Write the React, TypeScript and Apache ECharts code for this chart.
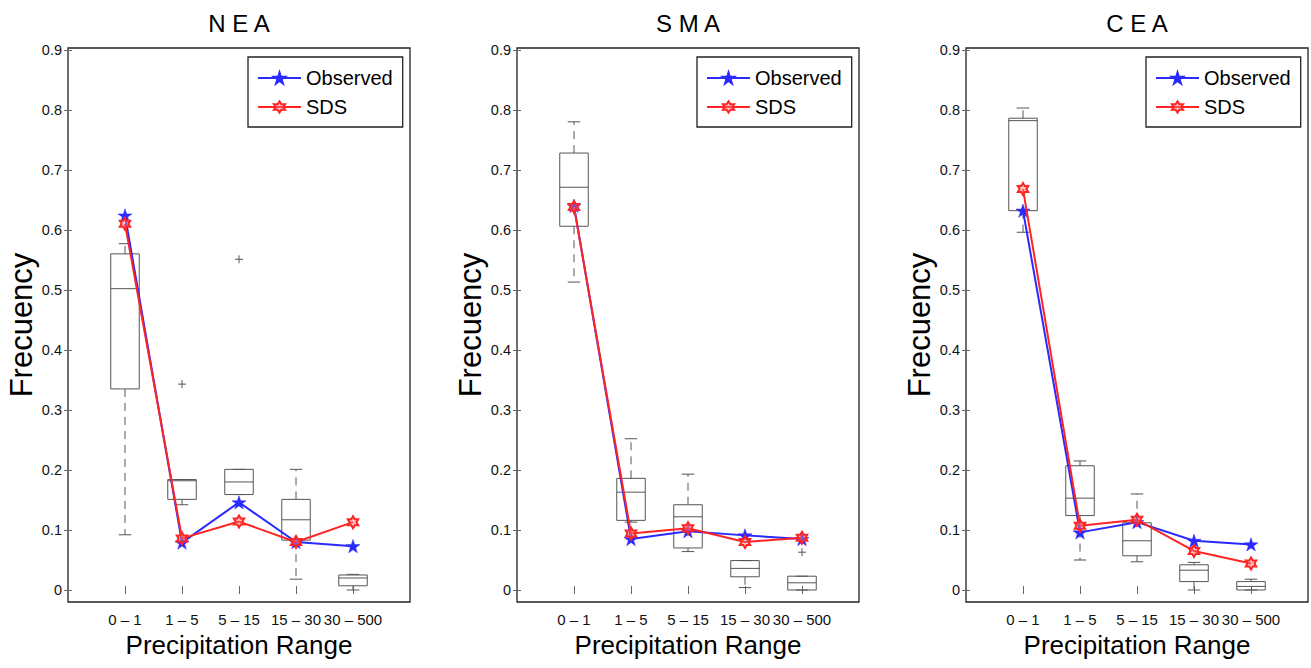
import React, { useEffect, useRef } from "react";
import * as echarts from "echarts";

// ---------- data ----------
const categories = ["0 – 1", "1 – 5", "5 – 15", "15 – 30", "30 – 500"];
const regionTitles = ["N E A", "S M A", "C E A"];
const yTicks = [0, 0.1, 0.2, 0.3, 0.4, 0.5, 0.6, 0.7, 0.8, 0.9];
const seriesNames = ["Observed", "SDS"];

// box rows: [lower whisker, q1, median, q3, upper whisker]
const neaObserved = [0.624, 0.079, 0.146, 0.08, 0.073];
const neaSDS = [0.61, 0.086, 0.114, 0.08, 0.113];
const neaBoxes = [
  [0.092, 0.335, 0.502, 0.56, 0.577],
  [0.142, 0.151, 0.182, 0.184, 0.184],
  [0.159, 0.159, 0.18, 0.201, 0.201],
  [0.018, 0.083, 0.117, 0.151, 0.201],
  [0.0, 0.007, 0.02, 0.025, 0.026],
];
const neaOutliers = [
  ["1 – 5", 0.343],
  ["5 – 15", 0.551],
];

const smaObserved = [0.64, 0.085, 0.098, 0.091, 0.085];
const smaSDS = [0.638, 0.094, 0.103, 0.08, 0.087];
const smaBoxes = [
  [0.513, 0.606, 0.671, 0.728, 0.78],
  [0.113, 0.116, 0.163, 0.186, 0.252],
  [0.064, 0.07, 0.122, 0.142, 0.193],
  [0.004, 0.022, 0.036, 0.049, 0.049],
  [0.0, 0.0, 0.012, 0.023, 0.023],
];
const smaOutliers = [["30 – 500", 0.063]];

const ceaObserved = [0.632, 0.096, 0.113, 0.082, 0.076];
const ceaSDS = [0.668, 0.107, 0.117, 0.065, 0.044];
const ceaBoxes = [
  [0.596, 0.632, 0.782, 0.786, 0.803],
  [0.05, 0.124, 0.153, 0.207, 0.215],
  [0.047, 0.057, 0.082, 0.112, 0.16],
  [0.0, 0.014, 0.033, 0.042, 0.046],
  [0.0, 0.0, 0.006, 0.014, 0.018],
];
const ceaOutliers: any[] = [];

// ---------- layout / style ----------
const FONT = "Liberation Sans, Arial, Helvetica, sans-serif";
const GRID_LEFTS = [68, 517, 966];
const GRID_WIDTH = 342;
const GRID_TOP = 48;
const GRID_HEIGHT = 554;
const LEGEND_LEFTS = [248, 697, 1146];
const BLUE = "#2a2aff";
const RED = "#ff2424";
const BOX = "#555555";

const PENTAGRAM =
  "path://M100,0L122.45,69.1L195.1,69.1L136.3,111.8L158.8,180.9L100,138.2L41.2,180.9L63.7,111.8L4.9,69.1L77.55,69.1Z";
const HEXAGRAM =
  "path://M100,0L128.87,50L186.6,50L157.7,100L186.6,150L128.87,150L100,200L71.13,150L13.4,150L42.3,100L13.4,50L71.13,50Z";

const panels = [
  { title: regionTitles[0], observed: neaObserved, sds: neaSDS, boxes: neaBoxes, outliers: neaOutliers },
  { title: regionTitles[1], observed: smaObserved, sds: smaSDS, boxes: smaBoxes, outliers: smaOutliers },
  { title: regionTitles[2], observed: ceaObserved, sds: ceaSDS, boxes: ceaBoxes, outliers: ceaOutliers },
];

const xTickPositions = categories.map((_, i) => i + 1);

function renderBox(params: any, api: any) {
  const x = api.value(0);
  const low = api.value(1);
  const q1 = api.value(2);
  const med = api.value(3);
  const q3 = api.value(4);
  const high = api.value(5);
  const unit = api.size([1, 0])[0];
  const hw = unit * 0.25;
  const cw = unit * 0.11;
  const cx = api.coord([x, med])[0];
  const yLow = api.coord([x, low])[1];
  const yQ1 = api.coord([x, q1])[1];
  const yMed = api.coord([x, med])[1];
  const yQ3 = api.coord([x, q3])[1];
  const yHigh = api.coord([x, high])[1];
  const solid = { stroke: BOX, lineWidth: 1, fill: "none" };
  const dashed = { stroke: BOX, lineWidth: 1, fill: "none", lineDash: [8, 6] };
  const children: any[] = [];
  if (high > q3) {
    children.push({ type: "line", shape: { x1: cx, y1: yQ3, x2: cx, y2: yHigh }, style: dashed });
  }
  if (low < q1) {
    children.push({ type: "line", shape: { x1: cx, y1: yQ1, x2: cx, y2: yLow }, style: dashed });
  }
  children.push({ type: "line", shape: { x1: cx - cw, y1: yHigh, x2: cx + cw, y2: yHigh }, style: solid });
  children.push({ type: "line", shape: { x1: cx - cw, y1: yLow, x2: cx + cw, y2: yLow }, style: solid });
  children.push({
    type: "rect",
    shape: { x: cx - hw, y: yQ3, width: hw * 2, height: Math.max(yQ1 - yQ3, 0.5) },
    style: solid,
  });
  children.push({ type: "line", shape: { x1: cx - hw, y1: yMed, x2: cx + hw, y2: yMed }, style: solid });
  return { type: "group", children };
}

function renderOutlier(params: any, api: any) {
  const p = api.coord([api.value(0), api.value(1)]);
  const s = 4;
  const style = { stroke: BOX, lineWidth: 1 };
  return {
    type: "group",
    children: [
      { type: "line", shape: { x1: p[0] - s, y1: p[1], x2: p[0] + s, y2: p[1] }, style },
      { type: "line", shape: { x1: p[0], y1: p[1] - s, x2: p[0], y2: p[1] + s }, style },
    ],
  };
}

function buildOption() {
  const grid: any[] = [];
  const xAxis: any[] = [];
  const yAxis: any[] = [];
  const series: any[] = [];
  const legend: any[] = [];
  const graphic: any[] = [];

  panels.forEach((panel, k) => {
    grid.push({
      left: GRID_LEFTS[k],
      top: GRID_TOP,
      width: GRID_WIDTH,
      height: GRID_HEIGHT,
      show: true,
      borderColor: "#222",
      borderWidth: 1.3,
      backgroundColor: "transparent",
    });
    const tickStyle = { lineStyle: { color: "#666", width: 1 }, inside: true, length: 4 };
    xAxis.push({
      type: "value",
      gridIndex: k,
      position: "bottom",
      min: 0,
      max: 6,
      name: "Precipitation Range",
      nameLocation: "middle",
      nameGap: 30,
      nameTextStyle: { fontSize: 26, color: "#000", fontFamily: FONT },
      axisLine: { show: false },
      splitLine: { show: false },
      axisTick: { ...tickStyle, customValues: xTickPositions },
      axisLabel: {
        customValues: xTickPositions,
        formatter: (v: number) => categories[Math.round(v) - 1] ?? "",
        fontSize: 15,
        color: "#111",
        fontFamily: FONT,
        margin: 10,
      },
    });
    xAxis.push({
      type: "value",
      gridIndex: k,
      position: "top",
      min: 0,
      max: 6,
      axisLine: { show: false },
      splitLine: { show: false },
      axisTick: { ...tickStyle, customValues: xTickPositions },
      axisLabel: { show: false },
    });
    yAxis.push({
      type: "value",
      gridIndex: k,
      position: "left",
      min: -0.02,
      max: 0.903,
      name: "Frecuency",
      nameLocation: "middle",
      nameGap: 31,
      nameTextStyle: { fontSize: 31, color: "#000", fontFamily: FONT },
      axisLine: { show: false },
      splitLine: { show: false },
      axisTick: { ...tickStyle, customValues: yTicks },
      axisLabel: {
        customValues: yTicks,
        formatter: (v: number) => (Math.abs(v) < 1e-9 ? "0" : String(+v.toFixed(1))),
        fontSize: 14.5,
        color: "#111",
        fontFamily: FONT,
        margin: 6,
      },
    });
    yAxis.push({
      type: "value",
      gridIndex: k,
      position: "right",
      min: -0.02,
      max: 0.903,
      axisLine: { show: false },
      splitLine: { show: false },
      axisTick: { ...tickStyle, customValues: yTicks },
      axisLabel: { show: false },
    });

    const xi = 2 * k;
    const yi = 2 * k;

    series.push({
      type: "custom",
      name: "box-" + k,
      xAxisIndex: xi,
      yAxisIndex: yi,
      renderItem: renderBox,
      encode: { x: 0, y: [1, 2, 3, 4, 5] },
      data: panel.boxes.map((b, i) => [i + 1, ...b]),
      z: 2,
      silent: true,
    });
    series.push({
      type: "custom",
      name: "outliers-" + k,
      xAxisIndex: xi,
      yAxisIndex: yi,
      renderItem: renderOutlier,
      encode: { x: 0, y: 1 },
      data: panel.outliers.map((o: any) => [categories.indexOf(o[0]) + 1, o[1]]),
      z: 2,
      silent: true,
    });
    series.push({
      type: "line",
      name: seriesNames[0],
      xAxisIndex: xi,
      yAxisIndex: yi,
      data: panel.observed.map((v, i) => [i + 1, v]),
      symbol: PENTAGRAM,
      symbolSize: 14,
      symbolKeepAspect: true,
      lineStyle: { color: BLUE, width: 2 },
      itemStyle: { color: BLUE, borderColor: BLUE, borderWidth: 0.5 },
      emphasis: { disabled: true },
      z: 3,
    });
    series.push({
      type: "line",
      name: seriesNames[1],
      xAxisIndex: xi,
      yAxisIndex: yi,
      data: panel.sds.map((v, i) => [i + 1, v]),
      symbol: HEXAGRAM,
      symbolSize: 12,
      symbolKeepAspect: true,
      lineStyle: { color: RED, width: 2 },
      itemStyle: { color: "rgba(255,120,120,0.45)", borderColor: RED, borderWidth: 2 },
      emphasis: { disabled: true },
      z: 4,
    });

    legend.push({
      data: seriesNames,
      left: LEGEND_LEFTS[k],
      top: 57,
      orient: "vertical",
      selectedMode: false,
      backgroundColor: "#fff",
      borderColor: "#222",
      borderWidth: 1.3,
      padding: [11, 10, 10, 9],
      itemWidth: 43,
      itemHeight: 14,
      itemGap: 9,
      textStyle: { fontSize: 20, color: "#000", fontFamily: FONT, lineHeight: 20 },
    });

    graphic.push({
      type: "text",
      x: GRID_LEFTS[k] + GRID_WIDTH / 2,
      y: 23,
      style: {
        text: panel.title,
        fontSize: 24,
        fontFamily: FONT,
        fill: "#000",
        align: "center",
        verticalAlign: "middle",
        textAlign: "center",
        textVerticalAlign: "middle",
      },
    });
  });

  return {
    animation: false,
    backgroundColor: "#fff",
    grid,
    xAxis,
    yAxis,
    series,
    legend,
    graphic,
  };
}

export default function App() {
  const ref = useRef<HTMLDivElement>(null);
  useEffect(() => {
    if (!ref.current) return;
    const chart = echarts.init(ref.current, undefined, { renderer: "svg" });
    chart.setOption(buildOption() as any);
    return () => chart.dispose();
  }, []);
  return (
    <div
      ref={ref}
      style={{ position: "absolute", left: 0, top: 0, width: 1311, height: 668, background: "#fff" }}
    />
  );
}
